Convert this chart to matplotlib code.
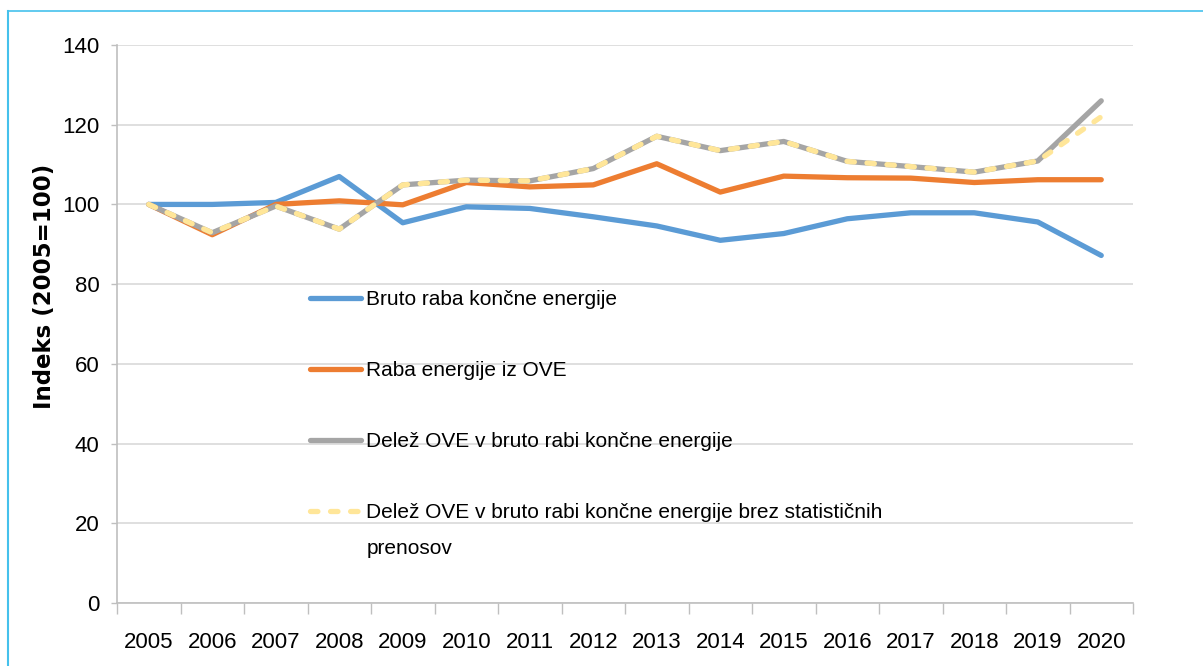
import matplotlib
matplotlib.use("Agg")
import matplotlib.pyplot as plt
from matplotlib.lines import Line2D

# ---- data ----
years = ["2005", "2006", "2007", "2008", "2009", "2010", "2011", "2012",
         "2013", "2014", "2015", "2016", "2017", "2018", "2019", "2020"]
bruto_raba = [100, 100, 100.5, 107, 95.4, 99.4, 99.0, 96.9, 94.6, 91.0,
              92.7, 96.4, 97.9, 97.9, 95.6, 87.2]
raba_ove = [100, 92.4, 100, 100.9, 99.9, 105.5, 104.4, 104.9, 110.2, 103.1,
            107.1, 106.7, 106.6, 105.5, 106.2, 106.2]
delez_ove = [100, 92.9, 99.6, 93.8, 104.9, 106.1, 105.9, 109.0, 117.1, 113.5,
             115.8, 110.8, 109.5, 108.1, 110.9, 126.0]
delez_ove_brez = [100, 92.9, 99.6, 93.8, 104.9, 106.1, 105.9, 109.0, 117.1, 113.5,
                  115.8, 110.8, 109.5, 108.1, 110.9, 122.0]
labels = ["Bruto raba končne energije",
          "Raba energije iz OVE",
          "Delež OVE v bruto rabi končne energije",
          "Delež OVE v bruto rabi končne energije brez statističnih\nprenosov"]
yticks = [0, 20, 40, 60, 80, 100, 120, 140]

plt.rcParams['font.family'] = ['Liberation Sans', 'DejaVu Sans']

W, H = 1203, 666
fig = plt.figure(figsize=(W / 100, H / 100), dpi=100)
ax = fig.add_axes([117 / W, (H - 603) / H, (1133 - 117) / W, (603 - 45) / H])

x = list(range(len(years)))
lw = 3.8
ax.plot(x, bruto_raba, color="#5B9BD5", lw=lw, solid_capstyle="round",
        solid_joinstyle="round", zorder=3, label=labels[0])
ax.plot(x, raba_ove, color="#ED7D31", lw=lw, solid_capstyle="round",
        solid_joinstyle="round", zorder=4, label=labels[1])
ax.plot(x, delez_ove, color="#A5A5A5", lw=lw, solid_capstyle="round",
        solid_joinstyle="round", zorder=5, label=labels[2])
ax.plot(x, delez_ove_brez, color="#FFE699", lw=lw, dashes=(1.4, 2.4),
        dash_capstyle="round", zorder=6, label=labels[3])

ax.set_xlim(-0.5, len(years) - 0.5)
ax.set_ylim(0, 140)
ax.set_yticks(yticks)
ax.set_yticklabels([str(v) for v in yticks])
ax.set_xticks(x)
ax.set_xticklabels(years)
ax.set_xticks([i - 0.5 for i in range(len(years) + 1)], minor=True)

ax.grid(axis="y", color="#D9D9D9", lw=1.2, zorder=0)
for s in ["top", "right"]:
    ax.spines[s].set_visible(False)
ax.spines["left"].set_color("#BFBFBF")
ax.spines["bottom"].set_color("#BFBFBF")
ax.spines["left"].set_linewidth(1.2)
ax.spines["bottom"].set_linewidth(1.2)

ax.tick_params(axis="y", length=4.5, width=1, color="#BFBFBF", pad=8,
               labelsize=16, labelcolor="#000000")
ax.tick_params(axis="x", which="major", length=0, pad=21, labelsize=16)
ax.tick_params(axis="x", which="minor", length=8, width=1, color="#BFBFBF")

fig.text(45 / W, 1 - 286 / H, "Indeks (2005=100)", rotation=90,
         ha="center", va="center", fontsize=16.5, fontweight="bold",
         family=["DejaVu Sans"])

leg = ax.legend(loc="upper left", bbox_to_anchor=(310 / W, 1 - 290 / H),
                bbox_transform=fig.transFigure, frameon=False, fontsize=15,
                handlelength=2.45, handletextpad=0.25, labelspacing=2.5,
                borderpad=0, borderaxespad=0)
for t in leg.get_texts():
    t.set_linespacing(2.15)
for line in leg.get_lines():
    line.set_linewidth(lw)
# align the handle of the two-line entry with its first line
try:
    cols = leg._legend_handle_box.get_children()
    last = cols[-1].get_children()[-1]
    last.align = "top"
except Exception:
    pass

# light-blue frame (top and left edges)
fig.add_artist(Line2D([8 / W, 8 / W], [0, 1 - 11 / H], transform=fig.transFigure,
                      color="#45C1EC", lw=1.5))
fig.add_artist(Line2D([8 / W, 1], [1 - 11 / H, 1 - 11 / H], transform=fig.transFigure,
                      color="#45C1EC", lw=1.2))

fig.savefig("out.png", dpi=100)
